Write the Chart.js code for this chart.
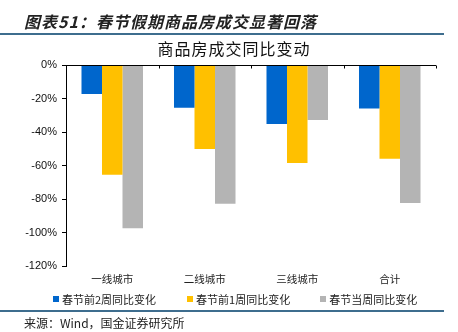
<!DOCTYPE html>
<html>
<head>
<meta charset="utf-8">
<script src="https://cdn.jsdelivr.net/npm/chart.js@4"></script>
<style>
  html, body { margin: 0; padding: 0; background: #fff; }
  #wrap { position: relative; width: 458px; height: 332px; overflow: hidden; font-family: "Noto Sans CJK SC", sans-serif; }
  #chart { position: absolute; left: 0; top: 0; }
  .heading { position: absolute; left: 24px; top: 9px; font-size: 16px; font-weight: bold; font-style: italic; letter-spacing: 1px; color: #222; line-height: 24px; white-space: nowrap; }
  .rule { position: absolute; left: 0; width: 444px; height: 2px; background: #3e6d8e; }
  .ctitle { position: absolute; left: 0; width: 468px; top: 36px; text-align: center; font-size: 16px; letter-spacing: 1px; color: #111; line-height: 24px; }
  #legend { position: absolute; top: 291px; left: 53px; display: flex; font-size: 11px; color: #222; line-height: 16px; white-space: nowrap; }
  #legend .item { display: flex; align-items: center; }
  #legend .box { width: 6px; height: 6px; margin-right: 3px; }
  .source { position: absolute; left: 24px; top: 314px; font-size: 12px; color: #222; line-height: 18px; white-space: nowrap; }
</style>
</head>
<body>
<div id="wrap">
  <canvas id="chart" width="458" height="332"></canvas>
  <div class="heading">图表51：春节假期商品房成交显著回落</div>
  <div class="rule" style="top:33px"></div>
  <div class="ctitle">商品房成交同比变动</div>
  <div id="legend"></div>
  <div class="rule" style="top:310px"></div>
  <div class="source">来源：Wind，国金证券研究所</div>
</div>
<script>
// categories and series (YoY change, %)
const categories = ['一线城市', '二线城市', '三线城市', '合计'];
const seriesNames = ['春节前2周同比变化', '春节前1周同比变化', '春节当周同比变化'];
const seriesColors = ['#0066cc', '#ffc000', '#b4b4b4'];
const twoWeeksBefore = [-17.3, -25.5, -35.2, -25.9];
const oneWeekBefore = [-65.5, -50.2, -58.5, -55.9];
const festivalWeek = [-97.5, -82.8, -32.8, -82.4];
const yTicks = [0, -20, -40, -60, -80, -100, -120];

const seriesValues = [twoWeeksBefore, oneWeekBefore, festivalWeek];

// legend built from the same series definitions
const legendEl = document.getElementById('legend');
const legendGaps = [31, 30, 0];
seriesNames.forEach((name, i) => {
  const item = document.createElement('div');
  item.className = 'item';
  item.style.marginRight = legendGaps[i] + 'px';
  item.innerHTML = `<span class="box" style="background:${seriesColors[i]}"></span><span>${name}</span>`;
  legendEl.appendChild(item);
});

// horizontal axis line at 0% with category boundary ticks hanging below
const zeroAxis = {
  id: 'zeroAxis',
  afterDatasetsDraw(chart) {
    const { ctx, chartArea, scales: { x, y } } = chart;
    const y0 = Math.round(y.getPixelForValue(0)) + 0.5;
    ctx.save();
    ctx.strokeStyle = '#000';
    ctx.lineWidth = 1;
    ctx.beginPath();
    ctx.moveTo(chartArea.left, y0);
    ctx.lineTo(chartArea.right, y0);
    for (let i = 0; i <= categories.length; i++) {
      const px = Math.round(x.getPixelForValue(i - 0.5)) + 0.5;
      ctx.moveTo(px, y0);
      ctx.lineTo(px, y0 + 3);
    }
    ctx.stroke();
    ctx.restore();
  },
};

new Chart(document.getElementById('chart'), {
  type: 'bar',
  data: {
    labels: categories,
    datasets: seriesNames.map((name, i) => ({
      label: name,
      data: seriesValues[i],
      backgroundColor: seriesColors[i],
      borderWidth: 0,
      categoryPercentage: 0.665,
      barPercentage: 1,
    })),
  },
  options: {
    responsive: false,
    animation: false,
    devicePixelRatio: 1,
    layout: { padding: { left: 0, right: 22, top: 65, bottom: 0 } },
    plugins: {
      legend: { display: false },
      title: { display: false },
      tooltip: { enabled: false },
    },
    scales: {
      x: {
        grid: { display: false, drawTicks: false },
        border: { display: false },
        ticks: {
          color: '#222',
          padding: 7,
          maxRotation: 0,
          font: { family: '"Noto Sans CJK SC", sans-serif', size: 10.5 },
        },
        afterFit(scale) { scale.height = 66; },
      },
      y: {
        min: -120,
        max: 0,
        afterBuildTicks(scale) { scale.ticks = yTicks.map((v) => ({ value: v })); },
        grid: { display: true, drawOnChartArea: false, drawTicks: true, tickLength: 4, color: '#000' },
        border: { display: true, color: '#000', width: 1 },
        ticks: {
          color: '#111',
          padding: 5,
          font: { family: '"Liberation Sans", Arial, sans-serif', size: 11 },
          callback: (v) => v + '%',
        },
        afterFit(scale) { scale.width = 66; },
      },
    },
  },
  plugins: [zeroAxis],
});
</script>
</body>
</html>
